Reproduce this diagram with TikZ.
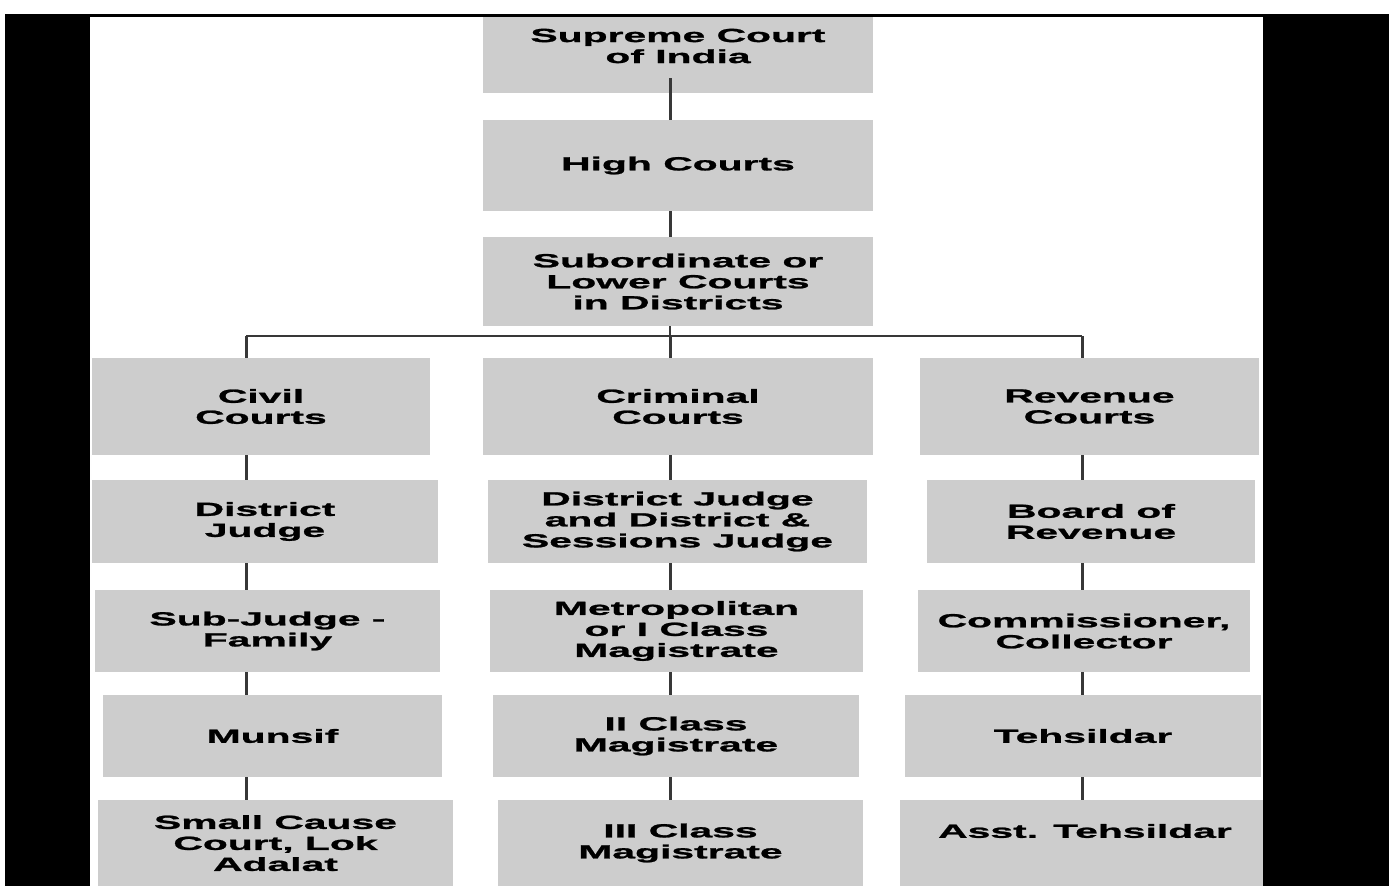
\documentclass[tikz,border=0pt]{standalone}
\usepackage{fontspec}
\newfontfamily\courtfont{Liberation Sans}[FakeStretch=2.15, BoldFeatures={FakeBold=1.3}]
\definecolor{boxgray}{HTML}{CDCDCD}
\definecolor{linkgray}{HTML}{383838}
\begin{document}
\begin{tikzpicture}[x=1pt,y=-1pt]
	\tikzset{box/.style = {fill=boxgray, inner sep=0pt, align=center, font=\courtfont\bfseries\fontsize{19}{21}\selectfont}}
	\tikzset{txt/.style = {inner sep=0pt, align=center, font=\courtfont\bfseries\fontsize{19}{21}\selectfont}}
	\tikzset{link/.style = {draw=linkgray, line width=3pt}}
	\tikzset{bus/.style = {draw=linkgray, line width=2pt}}
	\useasboundingbox (0,0) rectangle (1389,886);
	% frame
	\fill[black] (5,14) rectangle (90,886);
	\fill[black] (1263,14) rectangle (1389,886);
	% top of the chart
	\node[box, minimum width=390pt, minimum height=77pt] (sc) at (678,54.5) {};
	\node[txt] (sctext) at (678,46) {Supreme Court\\of India};
	\node[box, minimum width=390pt, minimum height=91pt] (hc) at (678,165.5) {High Courts};
	\node[box, minimum width=390pt, minimum height=89pt] (sub) at (678,281.5) {Subordinate or\\Lower Courts\\in Districts};
	% three branches
	\node[box, minimum width=338pt, minimum height=97pt] (civ1) at (261,406.5) {Civil\\Courts};
	\node[box, minimum width=390pt, minimum height=97pt] (cri1) at (678,406.5) {Criminal\\Courts};
	\node[box, minimum width=339pt, minimum height=97pt] (rev1) at (1089.5,406.5) {Revenue\\Courts};
	\node[box, minimum width=346pt, minimum height=83pt] (civ2) at (265,521.5) {District\\Judge};
	\node[box, minimum width=379pt, minimum height=83pt] (cri2) at (677.5,521.5) {District Judge\\and District \&\\Sessions Judge};
	\node[box, minimum width=328pt, minimum height=83pt] (rev2) at (1091,521.5) {Board of\\Revenue};
	\node[box, minimum width=345pt, minimum height=82pt] (civ3) at (267.5,631) {Sub-Judge -\\Family};
	\node[box, minimum width=373pt, minimum height=82pt] (cri3) at (676.5,631) {Metropolitan\\or I Class\\Magistrate};
	\node[box, minimum width=332pt, minimum height=82pt] (rev3) at (1084,631) {Commissioner,\\Collector};
	\node[box, minimum width=339pt, minimum height=82pt] (civ4) at (272.5,736) {Munsif};
	\node[box, minimum width=366pt, minimum height=82pt] (cri4) at (676,736) {II Class\\Magistrate};
	\node[box, minimum width=356pt, minimum height=82pt] (rev4) at (1083,736) {Tehsildar};
	\node[box, minimum width=355pt, minimum height=86pt, text depth=0pt] (civ5) at (275.5,843) {\raisebox{-4pt}{}Small Cause\\Court, Lok\\Adalat};
	\node[box, minimum width=365pt, minimum height=86pt] (cri5) at (680.5,843) {III Class\\Magistrate};
	\node[box, minimum width=363pt, minimum height=86pt] (rev5) at (1081.5,843) {};
	\node[txt] (rev5text) at (1085,831) {Asst. Tehsildar};
	% connectors
	\coordinate (busl) at (246,336);
	\coordinate (busc) at (670,336);
	\coordinate (busr) at (1082,336);
	\path[link] ([yshift=15pt]sc.south -| busc) -- (hc.north -| busc);
	\path[link] (hc.south -| busc) -- (sub.north -| busc);
	\path[bus] (sub.south -| busc) -- (busc);
	\path[bus] (busl) -- (busr);
	\path[link] (busl) -- (civ1.north -| busl);
	\path[link] (busc) -- (cri1.north -| busc);
	\path[link] (busr) -- (rev1.north -| busr);
	\foreach \a/\b in {1/2,2/3,3/4,4/5} {
		\path[link] (civ\a.south -| busl) -- (civ\b.north -| busl);
		\path[link] (cri\a.south -| busc) -- (cri\b.north -| busc);
		\path[link] (rev\a.south -| busr) -- (rev\b.north -| busr);
	}
	\fill[black] (5,14) rectangle (1389,16.5);
\end{tikzpicture}
\end{document}
